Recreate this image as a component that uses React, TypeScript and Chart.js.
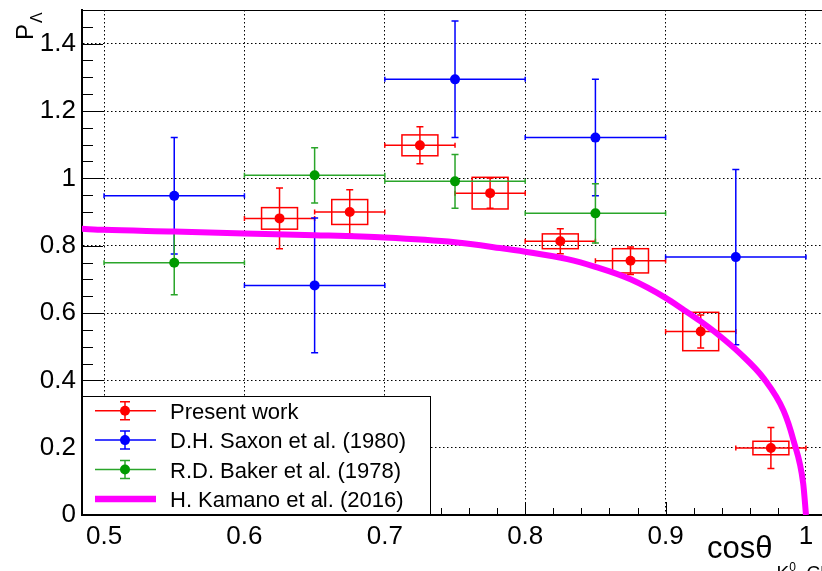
import React, { useEffect, useRef } from "react";
import { Chart, registerables } from "chart.js";

Chart.register(...registerables);

// ---------- axis ranges & ticks ----------
const xMin = 0.4843;
const xMax = 1.0114;
const yMin = 0;
const yMax = 1.5;
const xTickValues = [0.5, 0.6, 0.7, 0.8, 0.9, 1.0];
const xTickLabels = ["0.5", "0.6", "0.7", "0.8", "0.9", "1"];
const yTickValues = [0, 0.2, 0.4, 0.6, 0.8, 1.0, 1.2, 1.4];
const yTickLabels = ["0", "0.2", "0.4", "0.6", "0.8", "1", "1.2", "1.4"];
const xMinorStep = 0.02;
const yMinorStep = 0.05;

// ---------- legend labels ----------
const seriesLabels = [
  "Present work",
  "D.H. Saxon et al. (1980)",
  "R.D. Baker et al. (1978)",
  "H. Kamano et al. (2016)",
];

// ---------- Present work ----------
const presentX = [0.625, 0.675, 0.725, 0.775, 0.825, 0.875, 0.925, 0.975];
const presentY = [0.881, 0.9, 1.098, 0.956, 0.813, 0.755, 0.545, 0.199];
const presentXErr = [0.025, 0.025, 0.025, 0.025, 0.025, 0.025, 0.025, 0.025];
const presentYErr = [0.09, 0.066, 0.055, 0.045, 0.037, 0.041, 0.049, 0.061];
const presentSysX = [0.0128, 0.0128, 0.0128, 0.0128, 0.0128, 0.0128, 0.0128, 0.0128];
const presentSysY = [0.032, 0.037, 0.031, 0.047, 0.022, 0.036, 0.057, 0.02];

// ---------- D.H. Saxon et al. (1980) ----------
const saxonX = [0.55, 0.65, 0.75, 0.85, 0.95];
const saxonY = [0.948, 0.682, 1.294, 1.121, 0.766];
const saxonXErr = [0.05, 0.05, 0.05, 0.05, 0.05];
const saxonYErr = [0.173, 0.2, 0.173, 0.173, 0.26];

// ---------- R.D. Baker et al. (1978) ----------
const bakerX = [0.55, 0.65, 0.75, 0.85];
const bakerY = [0.749, 1.009, 0.991, 0.896];
const bakerXErr = [0.05, 0.05, 0.05, 0.05];
const bakerYErr = [0.095, 0.082, 0.08, 0.088];

// ---------- H. Kamano et al. (2016) ----------
const kamanoX = [0.484, 0.5, 0.55, 0.6, 0.65, 0.7, 0.75, 0.782, 0.8, 0.83, 0.85, 0.875, 0.9, 0.912, 0.925, 0.938, 0.953, 0.97, 0.984, 0.991, 0.998, 1.0];
const kamanoY = [0.85, 0.847, 0.842, 0.836, 0.831, 0.824, 0.81, 0.793, 0.782, 0.76, 0.737, 0.7, 0.645, 0.612, 0.575, 0.534, 0.48, 0.405, 0.31, 0.223, 0.094, 0.0];

const FONT = "'Liberation Sans', Arial, Helvetica, sans-serif";
const RED = "#ff0000";
const BLUE = "#0000ff";
const GREEN_PT = "#009a00";
const GREEN_LN = "#2aa52a";
const MAGENTA = "#ff00ff";

const zip = (xs: number[], ys: number[]) => xs.map((x, i) => ({ x, y: ys[i] }));

function drawErrors(ctx: any, sx: any, sy: any, xs: number[], ys: number[], xe: number[], ye: number[], color: string) {
  ctx.strokeStyle = color;
  ctx.lineWidth = 1.5;
  for (let i = 0; i < xs.length; i++) {
    const px = sx.getPixelForValue(xs[i]);
    const py = sy.getPixelForValue(ys[i]);
    const x1 = sx.getPixelForValue(xs[i] - xe[i]);
    const x2 = sx.getPixelForValue(xs[i] + xe[i]);
    const y1 = sy.getPixelForValue(ys[i] - ye[i]);
    const y2 = sy.getPixelForValue(ys[i] + ye[i]);
    ctx.beginPath();
    ctx.moveTo(x1, py);
    ctx.lineTo(x2, py);
    ctx.moveTo(px, y1);
    ctx.lineTo(px, y2);
    ctx.moveTo(x1, py - 2.5);
    ctx.lineTo(x1, py + 2.5);
    ctx.moveTo(x2, py - 2.5);
    ctx.lineTo(x2, py + 2.5);
    ctx.moveTo(px - 3.5, y1);
    ctx.lineTo(px + 3.5, y1);
    ctx.moveTo(px - 3.5, y2);
    ctx.lineTo(px + 3.5, y2);
    ctx.stroke();
  }
}

const rootPlugin = {
  id: "rootStyle",
  beforeDatasetsDraw(chart: any) {
    const { ctx, chartArea: a, scales } = chart;
    const sx = scales.x;
    const sy = scales.y;
    ctx.save();
    // inner ticks
    ctx.strokeStyle = "#000";
    ctx.lineWidth = 1;
    ctx.beginPath();
    for (let k = Math.ceil(xMin / xMinorStep - 1e-6); k * xMinorStep < xMax; k++) {
      const v = k * xMinorStep;
      const px = Math.round(sx.getPixelForValue(v)) + 0.5;
      const major = xTickValues.some((t) => Math.abs(t - v) < 1e-6);
      ctx.moveTo(px, a.bottom);
      ctx.lineTo(px, a.bottom - (major ? 13 : 7));
    }
    for (let k = Math.ceil(yMin / yMinorStep); k * yMinorStep < yMax - 1e-6; k++) {
      const v = k * yMinorStep;
      const py = Math.round(sy.getPixelForValue(v)) + 0.5;
      const major = yTickValues.some((t) => Math.abs(t - v) < 1e-6);
      ctx.moveTo(a.left, py);
      ctx.lineTo(a.left + (major ? 21 : 11), py);
    }
    ctx.stroke();
    // top frame
    ctx.beginPath();
    ctx.moveTo(a.left, a.top + 0.5);
    ctx.lineTo(a.right, a.top + 0.5);
    ctx.stroke();

    ctx.beginPath();
    ctx.rect(a.left, a.top, a.right - a.left, a.bottom - a.top);
    ctx.clip();
    drawErrors(ctx, sx, sy, presentX, presentY, presentXErr, presentYErr, RED);
    // systematic boxes
    ctx.strokeStyle = RED;
    ctx.lineWidth = 1.5;
    for (let i = 0; i < presentX.length; i++) {
      const x1 = sx.getPixelForValue(presentX[i] - presentSysX[i]);
      const x2 = sx.getPixelForValue(presentX[i] + presentSysX[i]);
      const y1 = sy.getPixelForValue(presentY[i] + presentSysY[i]);
      const y2 = sy.getPixelForValue(presentY[i] - presentSysY[i]);
      ctx.strokeRect(x1, y1, x2 - x1, y2 - y1);
    }
    drawErrors(ctx, sx, sy, saxonX, saxonY, saxonXErr, saxonYErr, BLUE);
    drawErrors(ctx, sx, sy, bakerX, bakerY, bakerXErr, bakerYErr, GREEN_LN);
    ctx.restore();
  },
  afterDraw(chart: any) {
    const { ctx, chartArea: a } = chart;
    ctx.save();
    // legend
    const W = 349;
    const H = 119;
    const L = a.left;
    const T = a.bottom - H;
    ctx.fillStyle = "#fff";
    ctx.fillRect(L, T, W, H);
    ctx.strokeStyle = "#000";
    ctx.lineWidth = 1;
    ctx.strokeRect(L + 0.5, T + 0.5, W - 1, H - 1);
    const colors = [RED, BLUE, GREEN_LN];
    const ptColors = [RED, BLUE, GREEN_PT];
    for (let i = 0; i < seriesLabels.length; i++) {
      const ry = T + 14.7 + i * 29.4;
      if (i < 3) {
        ctx.strokeStyle = colors[i];
        ctx.lineWidth = 1.5;
        ctx.beginPath();
        ctx.moveTo(L + 13, ry);
        ctx.lineTo(L + 74, ry);
        ctx.moveTo(L + 43, ry - 9);
        ctx.lineTo(L + 43, ry + 9);
        ctx.moveTo(L + 38, ry - 9);
        ctx.lineTo(L + 48, ry - 9);
        ctx.moveTo(L + 38, ry + 9);
        ctx.lineTo(L + 48, ry + 9);
        ctx.stroke();
        ctx.fillStyle = ptColors[i];
        ctx.beginPath();
        ctx.arc(L + 43, ry, 5, 0, Math.PI * 2);
        ctx.fill();
      } else {
        ctx.strokeStyle = MAGENTA;
        ctx.lineWidth = 6.5;
        ctx.beginPath();
        ctx.moveTo(L + 13, ry);
        ctx.lineTo(L + 74, ry);
        ctx.stroke();
      }
      ctx.fillStyle = "#000";
      ctx.font = `22px ${FONT}`;
      ctx.textAlign = "left";
      ctx.textBaseline = "alphabetic";
      ctx.fillText(seriesLabels[i], L + 88, ry + 8);
    }

    // axis titles
    ctx.fillStyle = "#000";
    ctx.textAlign = "left";
    ctx.textBaseline = "alphabetic";
    ctx.font = `31px ${FONT}`;
    ctx.fillText("cos\u03b8", 707, 558);
    const w1 = ctx.measureText("cos\u03b8").width;
    const kx = 707 + w1 + 4;
    ctx.font = `19px ${FONT}`;
    ctx.fillText("K", kx, 579);
    const wk = ctx.measureText("K").width;
    ctx.font = `12px ${FONT}`;
    ctx.fillText("0", kx + wk, 571);
    const w0 = ctx.measureText("0").width;
    ctx.font = `19px ${FONT}`;
    ctx.fillText(", CM", kx + wk + w0, 579);

    ctx.translate(33, 40);
    ctx.rotate(-Math.PI / 2);
    ctx.font = `24px ${FONT}`;
    ctx.fillText("P", 0, 0);
    ctx.font = `16px ${FONT}`;
    ctx.fillText("\u039b", 17, 9);
    ctx.restore();
  },
};

const zeroPad = (s: any) => {
  s.paddingTop = 0;
  s.paddingBottom = 0;
  s.paddingLeft = 0;
  s.paddingRight = 0;
};

export default function App() {
  const ref = useRef<HTMLCanvasElement | null>(null);
  useEffect(() => {
    if (!ref.current) return;
    const chart = new Chart(ref.current, {
      type: "scatter",
      data: {
        datasets: [
          {
            label: seriesLabels[3],
            data: zip(kamanoX, kamanoY),
            showLine: true,
            borderColor: MAGENTA,
            borderWidth: 6,
            pointRadius: 0,
            cubicInterpolationMode: "monotone",
            order: 0,
          } as any,
          {
            label: seriesLabels[2],
            data: zip(bakerX, bakerY),
            pointRadius: 5,
            pointBackgroundColor: GREEN_PT,
            pointBorderWidth: 0,
            order: 1,
          },
          {
            label: seriesLabels[1],
            data: zip(saxonX, saxonY),
            pointRadius: 5,
            pointBackgroundColor: BLUE,
            pointBorderWidth: 0,
            order: 2,
          },
          {
            label: seriesLabels[0],
            data: zip(presentX, presentY),
            pointRadius: 5,
            pointBackgroundColor: RED,
            pointBorderWidth: 0,
            order: 3,
          },
        ],
      },
      options: {
        responsive: false,
        animation: false,
        events: [],
        layout: { autoPadding: false, padding: { top: 10, left: 0, right: 0, bottom: 0 } },
        plugins: { legend: { display: false }, tooltip: { enabled: false } },
        scales: {
          x: {
            type: "linear",
            min: xMin,
            max: xMax,
            afterFit: (s: any) => {
              s.height = 56;
              zeroPad(s);
            },
            afterBuildTicks: (s: any) => {
              s.ticks = xTickValues.map((v) => ({ value: v }));
            },
            ticks: {
              autoSkip: false,
              maxRotation: 0,
              padding: 6,
              color: "#000",
              font: { family: FONT, size: 26 },
              callback: (v: any) => {
                const i = xTickValues.findIndex((t) => Math.abs(t - Number(v)) < 1e-6);
                return i >= 0 ? xTickLabels[i] : "";
              },
            },
            grid: { color: "#000", lineWidth: 1, drawTicks: false },
            border: { display: true, color: "#000", width: 2, dash: [1.5, 2.5] },
          },
          y: {
            type: "linear",
            min: yMin,
            max: yMax,
            afterFit: (s: any) => {
              s.width = 82;
              zeroPad(s);
            },
            afterBuildTicks: (s: any) => {
              s.ticks = yTickValues.map((v) => ({ value: v }));
            },
            ticks: {
              autoSkip: false,
              padding: 6,
              color: "#000",
              font: { family: FONT, size: 26 },
              callback: (v: any) => {
                const i = yTickValues.findIndex((t) => Math.abs(t - Number(v)) < 1e-6);
                return i >= 0 ? yTickLabels[i] : "";
              },
            },
            grid: { color: "#000", lineWidth: 1, drawTicks: false },
            border: { display: true, color: "#000", width: 2, dash: [1.5, 2.5] },
          },
        },
      },
      plugins: [rootPlugin],
    });
    return () => chart.destroy();
  }, []);
  return (
    <div style={{ position: "absolute", left: 0, top: 0 }}>
      <canvas ref={ref} width={822} height={571} style={{ display: "block" }} />
    </div>
  );
}
